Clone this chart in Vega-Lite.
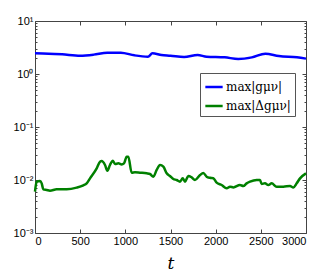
{
  "$schema": "https://vega.github.io/schema/vega-lite/v6.json",
  "autosize": "none",
  "width": 271,
  "height": 212,
  "padding": {"left": 35, "top": 21, "right": 17, "bottom": 46},
  "background": "white",
  "config": {
    "view": {"stroke": "#444444", "strokeWidth": 1},
    "axis": {"labelFont": "Liberation Sans", "labelFontSize": 11, "labelColor": "#000000", "domain": false, "grid": false, "tickColor": "#444444", "tickSize": -4, "labelPadding": 7}
  },
  "data": {"values": [
    {"t": 0, "v": 2.45, "s": "max|gμν|"},
    {"t": 150, "v": 2.42, "s": "max|gμν|"},
    {"t": 300, "v": 2.35, "s": "max|gμν|"},
    {"t": 500, "v": 2.22, "s": "max|gμν|"},
    {"t": 650, "v": 2.32, "s": "max|gμν|"},
    {"t": 800, "v": 2.53, "s": "max|gμν|"},
    {"t": 950, "v": 2.53, "s": "max|gμν|"},
    {"t": 1100, "v": 2.25, "s": "max|gμν|"},
    {"t": 1250, "v": 2.12, "s": "max|gμν|"},
    {"t": 1300, "v": 2.45, "s": "max|gμν|"},
    {"t": 1400, "v": 2.29, "s": "max|gμν|"},
    {"t": 1500, "v": 2.22, "s": "max|gμν|"},
    {"t": 1650, "v": 2.09, "s": "max|gμν|"},
    {"t": 1800, "v": 2.29, "s": "max|gμν|"},
    {"t": 1900, "v": 2.12, "s": "max|gμν|"},
    {"t": 2100, "v": 2.06, "s": "max|gμν|"},
    {"t": 2250, "v": 1.92, "s": "max|gμν|"},
    {"t": 2400, "v": 2.06, "s": "max|gμν|"},
    {"t": 2550, "v": 2.42, "s": "max|gμν|"},
    {"t": 2700, "v": 2.18, "s": "max|gμν|"},
    {"t": 2900, "v": 2.06, "s": "max|gμν|"},
    {"t": 3000, "v": 1.95, "s": "max|gμν|"},
    {"t": 0, "v": 0.00603, "s": "max|Δgμν|"},
    {"t": 18, "v": 0.00931, "s": "max|Δgμν|"},
    {"t": 55, "v": 0.00958, "s": "max|Δgμν|"},
    {"t": 74, "v": 0.00865, "s": "max|Δgμν|"},
    {"t": 92, "v": 0.00667, "s": "max|Δgμν|"},
    {"t": 129, "v": 0.00648, "s": "max|Δgμν|"},
    {"t": 166, "v": 0.00629, "s": "max|Δgμν|"},
    {"t": 240, "v": 0.00667, "s": "max|Δgμν|"},
    {"t": 351, "v": 0.00667, "s": "max|Δgμν|"},
    {"t": 461, "v": 0.00717, "s": "max|Δgμν|"},
    {"t": 535, "v": 0.00793, "s": "max|Δgμν|"},
    {"t": 572, "v": 0.00865, "s": "max|Δgμν|"},
    {"t": 609, "v": 0.01074, "s": "max|Δgμν|"},
    {"t": 683, "v": 0.0166, "s": "max|Δgμν|"},
    {"t": 720, "v": 0.0222, "s": "max|Δgμν|"},
    {"t": 738, "v": 0.0228, "s": "max|Δgμν|"},
    {"t": 775, "v": 0.0192, "s": "max|Δgμν|"},
    {"t": 801, "v": 0.0150, "s": "max|Δgμν|"},
    {"t": 830, "v": 0.0192, "s": "max|Δgμν|"},
    {"t": 860, "v": 0.0232, "s": "max|Δgμν|"},
    {"t": 886, "v": 0.0200, "s": "max|Δgμν|"},
    {"t": 923, "v": 0.0206, "s": "max|Δgμν|"},
    {"t": 959, "v": 0.0197, "s": "max|Δgμν|"},
    {"t": 985, "v": 0.0206, "s": "max|Δgμν|"},
    {"t": 1015, "v": 0.0275, "s": "max|Δgμν|"},
    {"t": 1033, "v": 0.0275, "s": "max|Δgμν|"},
    {"t": 1070, "v": 0.01374, "s": "max|Δgμν|"},
    {"t": 1107, "v": 0.0140, "s": "max|Δgμν|"},
    {"t": 1162, "v": 0.01374, "s": "max|Δgμν|"},
    {"t": 1236, "v": 0.01336, "s": "max|Δgμν|"},
    {"t": 1273, "v": 0.01297, "s": "max|Δgμν|"},
    {"t": 1310, "v": 0.01156, "s": "max|Δgμν|"},
    {"t": 1347, "v": 0.01545, "s": "max|Δgμν|"},
    {"t": 1384, "v": 0.0192, "s": "max|Δgμν|"},
    {"t": 1421, "v": 0.01786, "s": "max|Δgμν|"},
    {"t": 1458, "v": 0.01336, "s": "max|Δgμν|"},
    {"t": 1494, "v": 0.0119, "s": "max|Δgμν|"},
    {"t": 1531, "v": 0.01045, "s": "max|Δgμν|"},
    {"t": 1568, "v": 0.0100, "s": "max|Δgμν|"},
    {"t": 1605, "v": 0.00931, "s": "max|Δgμν|"},
    {"t": 1635, "v": 0.01074, "s": "max|Δgμν|"},
    {"t": 1661, "v": 0.00931, "s": "max|Δgμν|"},
    {"t": 1697, "v": 0.0119, "s": "max|Δgμν|"},
    {"t": 1734, "v": 0.01122, "s": "max|Δgμν|"},
    {"t": 1771, "v": 0.0100, "s": "max|Δgμν|"},
    {"t": 1827, "v": 0.0124, "s": "max|Δgμν|"},
    {"t": 1863, "v": 0.0136, "s": "max|Δgμν|"},
    {"t": 1900, "v": 0.01156, "s": "max|Δgμν|"},
    {"t": 1937, "v": 0.0110, "s": "max|Δgμν|"},
    {"t": 1974, "v": 0.0108, "s": "max|Δgμν|"},
    {"t": 2011, "v": 0.00891, "s": "max|Δgμν|"},
    {"t": 2066, "v": 0.00805, "s": "max|Δgμν|"},
    {"t": 2122, "v": 0.00697, "s": "max|Δgμν|"},
    {"t": 2159, "v": 0.00748, "s": "max|Δgμν|"},
    {"t": 2196, "v": 0.00725, "s": "max|Δgμν|"},
    {"t": 2269, "v": 0.00805, "s": "max|Δgμν|"},
    {"t": 2306, "v": 0.0077, "s": "max|Δgμν|"},
    {"t": 2343, "v": 0.00865, "s": "max|Δgμν|"},
    {"t": 2380, "v": 0.00931, "s": "max|Δgμν|"},
    {"t": 2454, "v": 0.0100, "s": "max|Δgμν|"},
    {"t": 2491, "v": 0.0100, "s": "max|Δgμν|"},
    {"t": 2509, "v": 0.0084, "s": "max|Δgμν|"},
    {"t": 2546, "v": 0.00865, "s": "max|Δgμν|"},
    {"t": 2583, "v": 0.00805, "s": "max|Δgμν|"},
    {"t": 2620, "v": 0.00865, "s": "max|Δgμν|"},
    {"t": 2675, "v": 0.00748, "s": "max|Δgμν|"},
    {"t": 2749, "v": 0.00748, "s": "max|Δgμν|"},
    {"t": 2823, "v": 0.0077, "s": "max|Δgμν|"},
    {"t": 2860, "v": 0.00725, "s": "max|Δgμν|"},
    {"t": 2897, "v": 0.00865, "s": "max|Δgμν|"},
    {"t": 2934, "v": 0.01074, "s": "max|Δgμν|"},
    {"t": 3000, "v": 0.01336, "s": "max|Δgμν|"}
  ]},
  "resolve": {"axis": {"x": "independent", "y": "independent"}},
  "layer": [
    {
      "mark": {"type": "line", "strokeWidth": 2.5, "interpolate": "monotone"},
      "encoding": {
        "x": {"field": "t", "type": "quantitative", "scale": {"domain": [0, 3000], "nice": false, "zero": false},
              "axis": {"values": [0, 500, 1000, 1500, 2000, 2500, 3000], "format": "d", "title": "t", "titleFont": "DejaVu Serif", "titleFontStyle": "italic", "titleFontWeight": "normal", "titleFontSize": 17, "titlePadding": 9, "labelPadding": 6}},
        "y": {"field": "v", "type": "quantitative", "scale": {"type": "log", "domain": [0.001, 10], "nice": false},
              "axis": {"values": [0.001, 0.01, 0.1, 1, 10], "title": null, "labelPadding": 6,
                       "labelExpr": "datum.value > 5 ? '10¹' : datum.value > 0.5 ? '10⁰' : datum.value > 0.05 ? '10⁻¹' : datum.value > 0.005 ? '10⁻²' : '10⁻³'"}},
        "color": {"field": "s", "type": "nominal", "scale": {"domain": ["max|gμν|", "max|Δgμν|"], "range": ["#0000FF", "#008000"]},
                  "legend": {"title": null, "orient": "none", "legendX": 165, "legendY": 52, "strokeColor": "#555555", "fillColor": "white", "padding": 4, "labelFont": "DejaVu Serif", "labelFontSize": 12, "symbolType": "stroke", "symbolStrokeWidth": 2.5, "symbolSize": 300, "labelOffset": 2, "rowPadding": 3}}
      }
    },
    {
      "mark": {"type": "line", "opacity": 0},
      "encoding": {
        "x": {"field": "t", "type": "quantitative", "axis": {"orient": "top", "values": [0, 500, 1000, 1500, 2000, 2500, 3000], "labels": false, "title": null}},
        "y": {"field": "v", "type": "quantitative", "axis": {"orient": "right", "values": [0.001, 0.01, 0.1, 1, 10], "labels": false, "title": null}},
        "detail": {"field": "s"}
      }
    },
    {
      "mark": {"type": "line", "opacity": 0},
      "encoding": {
        "x": {"field": "t", "type": "quantitative", "axis": null},
        "y": {"field": "v", "type": "quantitative", "axis": {"orient": "left", "tickSize": -2, "labels": false, "title": null,
              "values": [0.002,0.003,0.004,0.005,0.006,0.007,0.008,0.009,0.02,0.03,0.04,0.05,0.06,0.07,0.08,0.09,0.2,0.3,0.4,0.5,0.6,0.7,0.8,0.9,2,3,4,5,6,7,8,9]}},
        "detail": {"field": "s"}
      }
    },
    {
      "mark": {"type": "line", "opacity": 0},
      "encoding": {
        "x": {"field": "t", "type": "quantitative", "axis": null},
        "y": {"field": "v", "type": "quantitative", "axis": {"orient": "right", "tickSize": -2, "labels": false, "title": null,
              "values": [0.002,0.003,0.004,0.005,0.006,0.007,0.008,0.009,0.02,0.03,0.04,0.05,0.06,0.07,0.08,0.09,0.2,0.3,0.4,0.5,0.6,0.7,0.8,0.9,2,3,4,5,6,7,8,9]}},
        "detail": {"field": "s"}
      }
    }
  ]
}
